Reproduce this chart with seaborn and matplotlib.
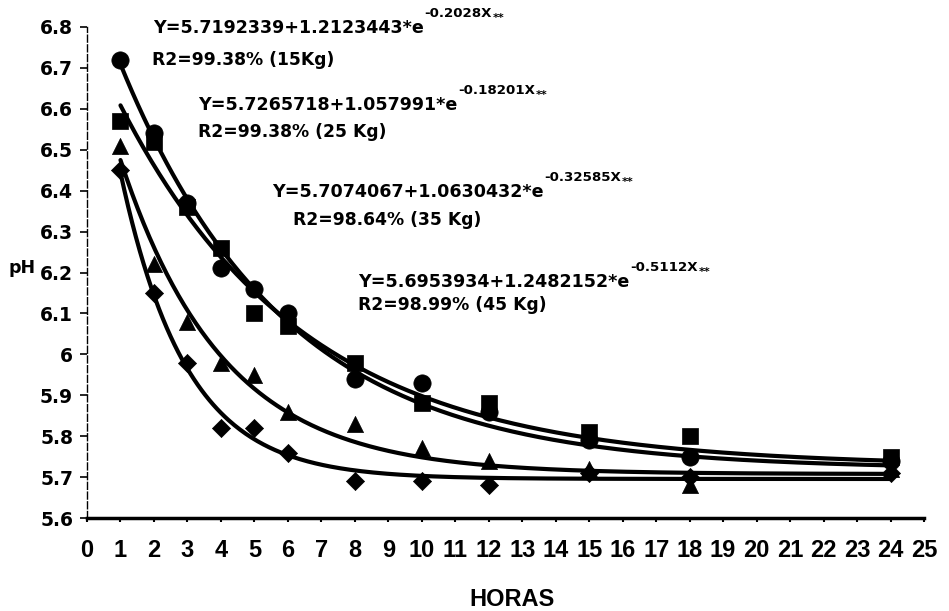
import numpy as np
import pandas as pd
import matplotlib
matplotlib.use("Agg")
import matplotlib.pyplot as plt
import matplotlib.transforms as mtransforms
import seaborn as sns

# Sampling times (hours) and measured pH per load
horas = [1, 2, 3, 4, 5, 6, 8, 10, 12, 15, 18, 24]
ph_15kg = [6.72, 6.54, 6.37, 6.21, 6.16, 6.10, 5.94, 5.93, 5.86, 5.79, 5.75, 5.74]
ph_25kg = [6.57, 6.52, 6.36, 6.26, 6.10, 6.07, 5.98, 5.88, 5.88, 5.81, 5.80, 5.75]
ph_35kg = [6.51, 6.22, 6.08, 5.98, 5.95, 5.86, 5.83, 5.77, 5.74, 5.72, 5.68, 5.72]
ph_45kg = [6.45, 6.15, 5.98, 5.82, 5.82, 5.76, 5.69, 5.69, 5.68, 5.71, 5.70, 5.71]

# Fitted model Y = a + b * exp(-c * X) for each load
cargas = ["15Kg", "25 Kg", "35 Kg", "45 Kg"]
fit_a = [5.7192339, 5.7265718, 5.7074067, 5.6953934]
fit_b = [1.2123443, 1.057991, 1.0630432, 1.2482152]
fit_c = ["0.2028", "0.18201", "0.32585", "0.5112"]
fit_r2 = ["99.38", "99.38", "98.64", "98.99"]

y_ticks = [5.6, 5.7, 5.8, 5.9, 6.0, 6.1, 6.2, 6.3, 6.4, 6.5, 6.6, 6.7, 6.8]
y_tick_labels = ["5.6", "5.7", "5.8", "5.9", "6", "6.1", "6.2", "6.3",
                 "6.4", "6.5", "6.6", "6.7", "6.8"]
x_ticks = list(range(0, 26))

sns.set_theme(style="white")
plt.rcParams["font.family"] = ["DejaVu Sans"]
plt.rcParams["font.weight"] = "bold"

W, H = 949, 611
fig = plt.figure(figsize=(W / 100, H / 100), dpi=100)
fig.patch.set_facecolor("white")
ax = fig.add_axes([87 / W, 1 - 518 / H, (924 - 87) / W, (518 - 27) / H])
ax.set_facecolor("white")

# Fitted curves
xs = np.linspace(1, 24, 400)
for a, b, c in zip(fit_a, fit_b, fit_c):
    ys = a + b * np.exp(-float(c) * xs)
    sns.lineplot(x=xs, y=ys, color="black", linewidth=3, ax=ax, sort=False)

# Observed points
series = [(ph_15kg, "o", 155), (ph_25kg, "s", 125), (ph_35kg, "^", 135), (ph_45kg, "D", 85)]
for vals, mk, size in series:
    df = pd.DataFrame({"horas": horas, "ph": vals})
    sns.scatterplot(data=df, x="horas", y="ph", marker=mk, s=size, color="black",
                    edgecolor="black", linewidth=0.5, ax=ax, zorder=3)

ax.set_xlim(0, 25)
ax.set_ylim(5.6, 6.8)
ax.set_xticks(x_ticks)
ax.set_xticklabels([str(t) for t in x_ticks], fontsize=17,
                   family=["Liberation Sans", "DejaVu Sans"], fontweight="bold")
ax.set_yticks(y_ticks)
ax.set_yticklabels(y_tick_labels, fontsize=13.5, fontweight="bold")
ax.set_xlabel("")
ax.set_ylabel("")

offset = mtransforms.ScaledTranslation(4 / 100, 0, fig.dpi_scale_trans)
for tick in ax.xaxis.get_major_ticks():
    tick.label1.set_transform(tick.label1.get_transform() + offset)

ax.tick_params(axis="x", which="major", bottom=True, length=3, width=1.5,
               color="black", pad=12, labelcolor="black")
ax.tick_params(axis="y", which="major", left=True, length=5, width=1.2,
               color="black", pad=5, labelcolor="black")

for side in ["top", "right"]:
    ax.spines[side].set_visible(False)
ax.spines["bottom"].set_linewidth(2.5)
ax.spines["bottom"].set_color("black")
ax.spines["left"].set_linewidth(1.0)
ax.spines["left"].set_color("black")
ax.spines["left"].set_linestyle((0, (5, 2)))


def px(x, y):
    return x / W, 1 - y / H


# Equation annotations: main text, raised exponent, trailing significance marks
eq_pos = [(153, 33), (198, 110), (272, 197), (358, 287)]
r2_pos = [(152, 65), (198, 137), (293, 225), (358, 310)]
for i in range(4):
    main = fig.text(*px(*eq_pos[i]), f"Y={fit_a[i]}+{fit_b[i]}*e", fontsize=12.6,
                    fontweight="bold", ha="left", va="baseline", color="black")
    sup = ax.annotate(f"-{fit_c[i]}X", xy=(1, 1), xycoords=main,
                      xytext=(0.5, -1), textcoords="offset points",
                      fontsize=9.6, fontweight="bold", ha="left", va="bottom",
                      annotation_clip=False, color="black")
    ax.annotate("**", xy=(1, 0), xycoords=sup, xytext=(0.5, -2),
                textcoords="offset points", fontsize=8, fontweight="bold",
                ha="left", va="bottom", annotation_clip=False, color="black")
    fig.text(*px(*r2_pos[i]), f"R2={fit_r2[i]}% ({cargas[i]})", fontsize=12.3,
             fontweight="bold", ha="left", va="baseline", color="black")

fig.text(*px(8, 273), "pH", fontsize=12.5, fontweight="bold",
         ha="left", va="baseline", color="black")
fig.text(*px(512, 599), "HORAS", fontsize=17, fontweight="bold",
         family=["Liberation Sans", "DejaVu Sans"], ha="center", va="center",
         color="black")

fig.savefig("out.png", dpi=100, facecolor="white")
